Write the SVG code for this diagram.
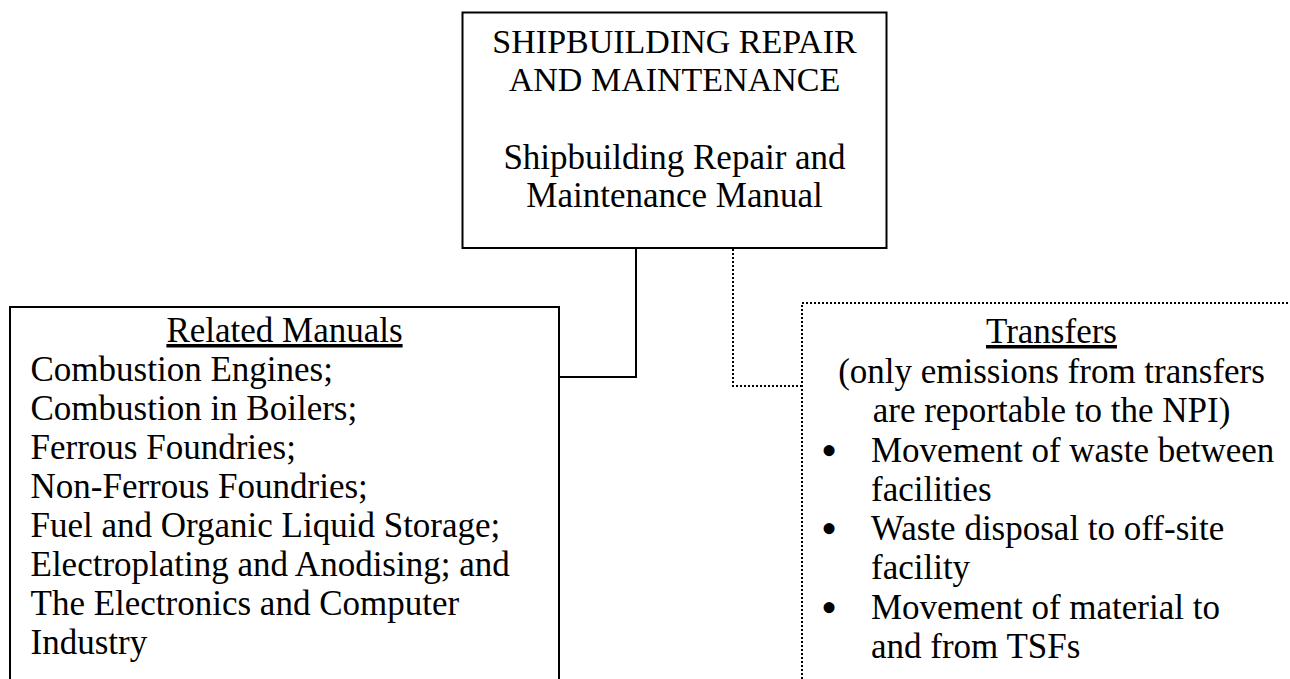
<svg xmlns="http://www.w3.org/2000/svg" width="1290" height="679" viewBox="0 0 1290 679">
  <style>
    text { font-family: "Liberation Serif", "Times New Roman", serif; font-size: 35px; fill: #000; }
    .c { text-anchor: middle; }
    .caps { font-size: 34px; }
    .u { text-decoration: underline; }
    .bullet { font-size: 46px; text-anchor: middle; }
    .box { fill: #fff; stroke: #000; stroke-width: 2; }
    .dot { fill: #fff; stroke: #000; stroke-width: 2; stroke-dasharray: 2 2; }
    .link { fill: none; stroke: #000; stroke-width: 2; }
    .link-dot { fill: none; stroke: #000; stroke-width: 2; stroke-dasharray: 2 2; }
  </style>

  <rect width="1290" height="679" fill="#fff"/>

  <!-- connectors -->
  <g id="connectors">
    <polyline class="link" points="636,248 636,377 559,377"/>
    <polyline class="link-dot" points="733,249 733,386 802,386"/>
  </g>

  <!-- main manual -->
  <g id="node-main">
    <rect class="box" x="462.5" y="12.5" width="424" height="235.5"/>
    <text class="c caps" x="674.5" y="53">SHIPBUILDING REPAIR</text>
    <text class="c caps" x="674.5" y="91">AND MAINTENANCE</text>
    <text class="c" x="674.5" y="168.5">Shipbuilding Repair and</text>
    <text class="c" x="674.5" y="207">Maintenance Manual</text>
  </g>

  <!-- related manuals -->
  <g id="node-related">
    <rect class="box" x="10" y="307" width="549" height="420"/>
    <text class="c u" x="284.5" y="342">Related Manuals</text>
    <text x="30.5" y="381">Combustion Engines;</text>
    <text x="30.5" y="420">Combustion in Boilers;</text>
    <text x="30.5" y="459">Ferrous Foundries;</text>
    <text x="30.5" y="498">Non-Ferrous Foundries;</text>
    <text x="30.5" y="537">Fuel and Organic Liquid Storage;</text>
    <text x="30.5" y="576">Electroplating and Anodising; and</text>
    <text x="30.5" y="615">The Electronics and Computer</text>
    <text x="30.5" y="654">Industry</text>
  </g>

  <!-- transfers -->
  <g id="node-transfers">
    <rect class="dot" x="802" y="303" width="560" height="420"/>
    <text class="c u" x="1051.5" y="343">Transfers</text>
    <text class="c" x="1051.5" y="383">(only emissions from transfers</text>
    <text class="c" x="1051.5" y="422">are reportable to the NPI)</text>
    <text class="bullet" x="829" y="466">•</text>
    <text x="871" y="462">Movement of waste between</text>
    <text x="871" y="501">facilities</text>
    <text class="bullet" x="829" y="544">•</text>
    <text x="871" y="540">Waste disposal to off-site</text>
    <text x="871" y="579">facility</text>
    <text class="bullet" x="829" y="623">•</text>
    <text x="871" y="619">Movement of material to</text>
    <text x="871" y="658">and from TSFs</text>
  </g>
</svg>
